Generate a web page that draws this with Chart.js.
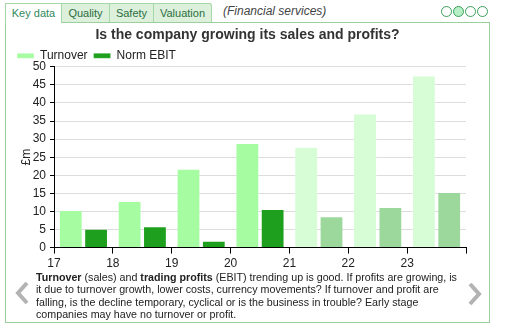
<!DOCTYPE html>
<html>
<head>
<meta charset="utf-8">
<script src="https://cdn.jsdelivr.net/npm/chart.js@4.4.1/dist/chart.umd.min.js"></script>
<style>
body { margin:0; width:506px; height:333px; background:#fff; font-family:"Liberation Sans", Arial, sans-serif; position:relative; overflow:hidden; }
.panel { position:absolute; left:5px; top:22px; width:485px; height:301px; box-sizing:border-box; border:1px solid #9ccf9c; }
.tab { position:absolute; top:3px; height:19px; box-sizing:border-box; border:1px solid #a4d8a4; border-bottom:none; background:#dcf0dc; color:#2b6e3f; font-size:11px; line-height:18px; text-align:center; }
.tab.on { background:#fff; height:20px; color:#2f8a5c; z-index:2; }
.sector { position:absolute; left:223px; top:3px; font-size:12px; font-style:italic; color:#444; line-height:16px; }
.dot { position:absolute; top:6px; width:11px; height:11px; box-sizing:border-box; border:1px solid #3aa05a; border-radius:50%; }
.dot.on { background:#b6efc6; }
#chart { position:absolute; left:6px; top:24px; }
.note { position:absolute; left:36px; top:271px; white-space:nowrap; font-size:10.7px; line-height:12.3px; color:#222; }
.note b { color:#222; }
svg.arrow { position:absolute; }
</style>
</head>
<body>
<div class="panel"></div>
<div class="tab on" style="left:5px;width:57px;">Key data</div>
<div class="tab" style="left:61px;width:49px;">Quality</div>
<div class="tab" style="left:109px;width:45px;">Safety</div>
<div class="tab" style="left:153px;width:59px;border-top-right-radius:3px;">Valuation</div>
<div class="sector">(Financial services)</div>
<div class="dot" style="left:441px;"></div>
<div class="dot on" style="left:453px;"></div>
<div class="dot" style="left:465px;"></div>
<div class="dot" style="left:477px;"></div>

<canvas id="chart" width="478" height="250"></canvas>

<div class="note"><b>Turnover</b> (sales) and <b>trading profits</b> (EBIT) trending up is good. If profits are growing, is<br>it due to turnover growth, lower costs, currency movements? If turnover and profit are<br>falling, is the decline temporary, cyclical or is the business in trouble? Early stage<br>companies may have no turnover or profit.</div>

<svg class="arrow" style="left:12px;top:282px;" width="20" height="24"><polyline points="15,1 6,11 15,21" fill="none" stroke="#b3b3b3" stroke-width="4"/></svg>
<svg class="arrow" style="left:465px;top:283px;" width="20" height="24"><polyline points="5,1 14,11 5,21" fill="none" stroke="#b3b3b3" stroke-width="4"/></svg>

<script>
const years = ['17', '18', '19', '20', '21', '22', '23']
const turnover = [10.4, 12.9, 21.8, 28.9, 27.9, 37.1, 47.6]
const normEbit = [5.2, 5.9, 1.9, 10.7, 8.7, 11.2, 15.4]
const forecastFrom = 4 // years from here on are drawn paler

Chart.defaults.font.family = '"Liberation Sans", Arial, sans-serif'

// bars sit between the year ticks
function toPoints(values) {
	return values.map(function (v, i) {
		return { x: Number(years[i]) + 0.5, y: v }
	})
}

// trim some of the extra space chart.js adds under the legend
const legendHeight = {
	id: 'legendHeight',
	beforeInit(chart) {
		const fit = chart.legend.fit
		chart.legend.fit = function () {
			fit.call(this)
			this.height -= 5
		}
	}
}

let ctx = document.getElementById('chart').getContext('2d')

let growthChart = new Chart(ctx, {
	type: 'bar',
	data: {
		datasets: [
			{
				label: 'Turnover',
				data: toPoints(turnover),
				backgroundColor: c => c.dataIndex >= forecastFrom ? '#d6fdd6' : '#a6fca0',
				borderColor: 'rgba(255,255,255,0.35)',
				borderWidth: 1,
				categoryPercentage: 0.86,
				barPercentage: 0.94
			},
			{
				label: 'Norm EBIT',
				data: toPoints(normEbit),
				backgroundColor: c => c.dataIndex >= forecastFrom ? '#9cd89c' : '#1ea01e',
				borderColor: 'rgba(255,255,255,0.25)',
				borderWidth: 1,
				categoryPercentage: 0.86,
				barPercentage: 0.94
			}
		]
	},
	options: {
		responsive: false,
		animation: false,
		layout: {
			padding: { left: 5, right: 0, top: 0, bottom: 0 }
		},
		scales: {
			x: {
				type: 'linear',
				offset: false,
				min: 17,
				max: 24,
				ticks: {
					stepSize: 1,
					autoSkip: false,
					maxRotation: 0,
					padding: 3,
					color: '#222',
					font: { size: 12 },
					callback: v => years.includes(String(v)) ? String(v) : ''
				},
				grid: {
					offset: false,
					drawOnChartArea: false,
					tickColor: '#000',
					tickLength: 6
				},
				border: { color: '#000' }
			},
			y: {
				min: 0,
				max: 50,
				ticks: {
					stepSize: 5,
					padding: 4,
					color: '#222',
					font: { size: 12 }
				},
				grid: {
					color: '#dddddd',
					tickColor: '#000',
					tickLength: 4
				},
				border: { color: '#000' },
				title: {
					display: true,
					text: '£m',
					color: '#222',
					font: { size: 12 },
					padding: { top: 8, bottom: 0 }
				},
				afterFit: function (scale) {
					scale.width = 43
				}
			},
			// empty right-hand axis, only keeps space right of the plot
			yRight: {
				position: 'right',
				ticks: { display: false },
				grid: { display: false },
				border: { display: false },
				afterFit: function (scale) {
					scale.width = 18
				}
			}
		},
		plugins: {
			title: {
				display: true,
				text: 'Is the company growing its sales and profits?',
				color: '#333',
				font: { size: 14, weight: 'bold' },
				padding: { top: 3, bottom: 0 }
			},
			legend: {
				align: 'start',
				labels: {
					boxWidth: 17,
					boxHeight: 5,
					padding: 6,
					color: '#222',
					font: { size: 12 }
				}
			},
			tooltip: { enabled: false }
		}
	},
	plugins: [legendHeight]
})
</script>
</body>
</html>
